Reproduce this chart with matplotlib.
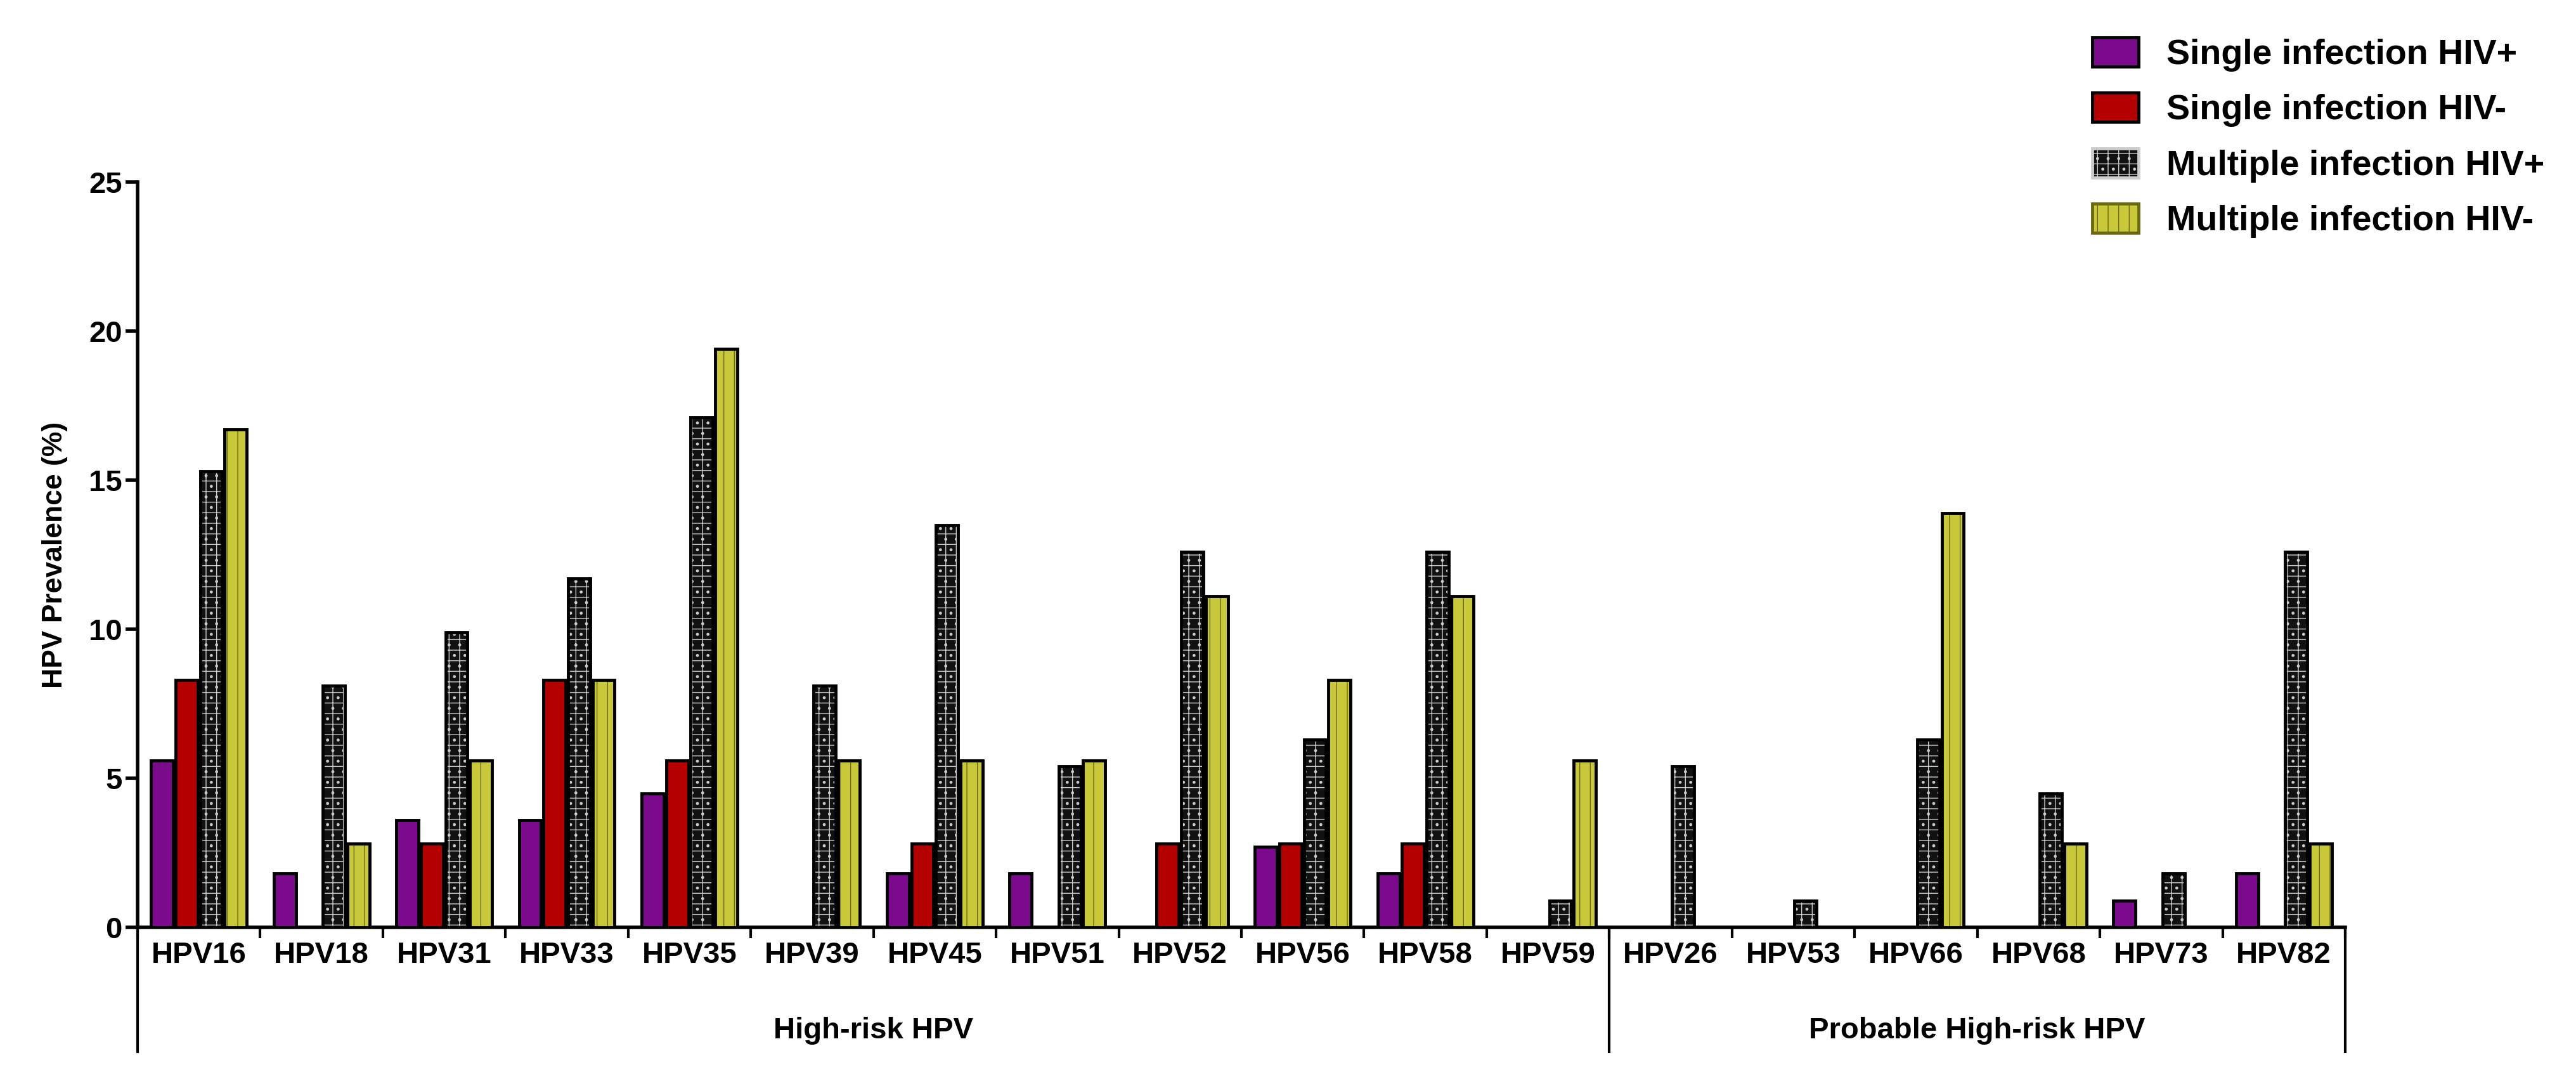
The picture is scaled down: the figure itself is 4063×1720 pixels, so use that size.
import matplotlib
matplotlib.use("Agg")
import matplotlib.pyplot as plt
from matplotlib.patches import Patch
import numpy as np

plt.rcParams['font.family'] = ['Liberation Sans', 'DejaVu Sans']
plt.rcParams['font.weight'] = 'bold'

categories = ["HPV16","HPV18","HPV31","HPV33","HPV35","HPV39","HPV45","HPV51","HPV52","HPV56","HPV58","HPV59",
              "HPV26","HPV53","HPV66","HPV68","HPV73","HPV82"]
single_pos = [5.6,1.8,3.6,3.6,4.5,0,1.8,1.8,0,2.7,1.8,0, 0,0,0,0,0.9,1.8]
single_neg = [8.3,0,2.8,8.3,5.6,0,2.8,0,2.8,2.8,2.8,0, 0,0,0,0,0,0]
multi_pos  = [15.3,8.1,9.9,11.7,17.1,8.1,13.5,5.4,12.6,6.3,12.6,0.9, 5.4,0.9,6.3,4.5,1.8,12.6]
multi_neg  = [16.7,2.8,5.6,8.3,19.4,5.6,5.6,5.6,11.1,8.3,11.1,5.6, 0,0,13.9,2.8,0,2.8]
series_names = ["Single infection HIV+","Single infection HIV-","Multiple infection HIV+","Multiple infection HIV-"]
groups = [("High-risk HPV", 0, 11), ("Probable High-risk HPV", 12, 17)]

fig = plt.figure(figsize=(40.63, 17.2), dpi=100)
ax = fig.add_axes([0.0534, 0.150, 0.857, 0.683])

x = np.arange(len(categories))
w = 0.18
offs = [-0.3, -0.1, 0.1, 0.3]
lw = 3.5
ax.bar(x+offs[0], single_pos, w, color='#7b0a8c', edgecolor='black', linewidth=lw, zorder=3)
ax.bar(x+offs[1], single_neg, w, color='#b50000', edgecolor='black', linewidth=lw, zorder=3)
ax.bar(x+offs[2], multi_pos, w, color='#111111', edgecolor='#cccccc', hatch='+.', linewidth=0, zorder=3)
ax.bar(x+offs[2], multi_pos, w, fill=False, edgecolor='black', linewidth=lw, zorder=4)
ax.bar(x+offs[3], multi_neg, w, color='#c9c83a', edgecolor='#6b6a10', hatch='|', linewidth=0, zorder=3)
ax.bar(x+offs[3], multi_neg, w, fill=False, edgecolor='black', linewidth=lw, zorder=4)

ax.set_xlim(-0.5, len(categories)-0.5)
ax.set_ylim(0, 25)
ax.set_yticks([0,5,10,15,20,25])
ax.tick_params(axis='y', labelsize=34, width=4, length=14)
ax.set_ylabel("HPV Prevalence (%)", fontsize=32, fontweight='bold', labelpad=24)

ax.set_xticks(np.arange(-0.5, len(categories)+0.5, 1))
ax.set_xticklabels([])
ax.tick_params(axis='x', which='major', width=3, length=12)
ax.set_xticks(x, minor=True)
ax.set_xticklabels(categories, minor=True, fontsize=34, fontweight='bold')
ax.tick_params(axis='x', which='minor', length=0, pad=16)

for s in ['top','right']:
    ax.spines[s].set_visible(False)
for s in ['left','bottom']:
    ax.spines[s].set_linewidth(4)

tr = ax.get_xaxis_transform()
for xv in [-0.5, 11.5, 17.5]:
    ax.plot([xv, xv], [0, -0.167], transform=tr, color='black', lw=3, clip_on=False)
for name, a, b in groups:
    ax.text((a+b)/2, -0.139, name, transform=tr, ha='center', va='center', fontsize=34, fontweight='bold')

handles = [Patch(facecolor='#7b0a8c', edgecolor='black', linewidth=3.5),
           Patch(facecolor='#b50000', edgecolor='black', linewidth=3.5),
           Patch(facecolor='#111111', edgecolor='#cccccc', hatch='+.', linewidth=3.5),
           Patch(facecolor='#c9c83a', edgecolor='#6b6a10', hatch='|', linewidth=3.5)]
fig.legend(handles, series_names, loc='upper left', bbox_to_anchor=(0.800, 0.995), frameon=False,
           prop={'size': 40, 'weight': 'bold'}, handlelength=1.3, handleheight=0.9, labelspacing=0.6, handletextpad=0.8)

fig.savefig("out.png", dpi=100)
